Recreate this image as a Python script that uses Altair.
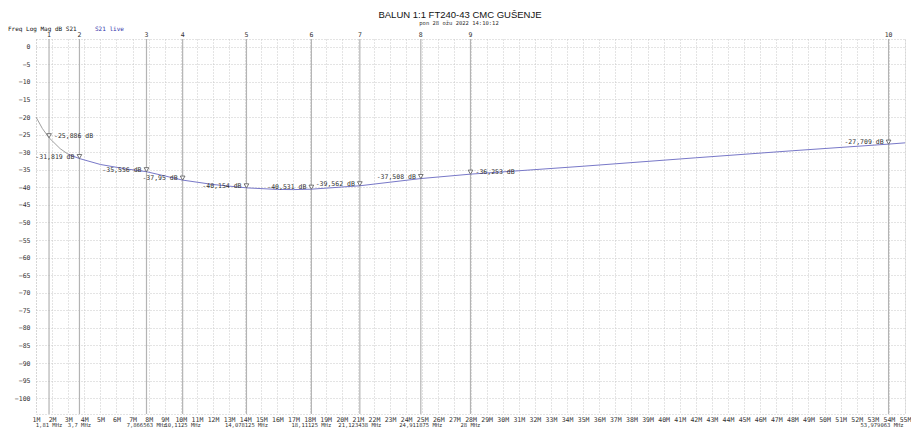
import altair as alt
import pandas as pd

# ---------------- data ----------------
TITLE = "BALUN 1:1 FT240-43 CMC GUŠENJE"
SUBTITLE = "pon 28 ožu 2022 14:10:12"
TRACE_NAME = "Freq Log Mag dB S21"
TRACE_LIVE = "S21 live"

# trace S21 (MHz, dB)
trace_freq = [1.0, 1.4, 1.81, 2.5, 3.0, 3.7, 5.0, 6.5, 7.866563, 10.1125, 12.0,
              14.078125, 16.0, 17.0, 18.11125, 21.123438, 24.911875, 28.0,
              35.0, 42.0, 48.0, 53.979063, 55.0]
trace_db = [-20.0, -23.3, -25.886, -29.0, -30.6, -31.819, -33.5, -34.7, -35.556,
            -37.95, -39.2, -40.154, -40.6, -40.65, -40.531, -39.562, -37.508,
            -36.253, -34.0, -31.6, -29.6, -27.709, -27.35]
GREY_UNTIL = 3.0  # start of trace drawn in grey

marker_num = [1, 2, 3, 4, 5, 6, 7, 8, 9, 10]
marker_freq = [1.81, 3.7, 7.866563, 10.1125, 14.078125, 18.11125, 21.123438,
               24.911875, 28.0, 53.979063]
marker_db = [-25.886, -31.819, -35.556, -37.95, -40.154, -40.531, -39.562,
             -37.508, -36.253, -27.709]
label_right = [1, 9]  # markers whose value label sits right of the marker

x_ticks = list(range(1, 56))
y_ticks = list(range(0, -101, -5))

# ---------------- tables ----------------
def fmt_num(v):
    s = ("%.6f" % v).rstrip("0").rstrip(".")
    return s.replace(".", ",")

trace = pd.DataFrame({"f": trace_freq, "db": trace_db})
markers = pd.DataFrame({
    "n": marker_num,
    "f": marker_freq,
    "db": marker_db,
    "lab": [fmt_num(v) + " dB" for v in marker_db],
    "flab": [fmt_num(f) + " MHz" for f in marker_freq],
    "right": [n in label_right for n in marker_num],
})

W, H = 869, 375
MONO = "DejaVu Sans Mono"
SANS = "Liberation Sans"

xs = alt.Scale(domain=[1, 55], nice=False, zero=False)
ys = alt.Scale(domain=[-104.5, 2.2], nice=False, zero=False)

X = alt.X("f:Q", scale=xs, title=None,
          axis=alt.Axis(values=x_ticks, labelExpr="datum.value + 'M'",
                        labelOverlap=False, labelPadding=2, labelFlush=False,
                        tickCount=55))
Y = alt.Y("db:Q", scale=ys, title=None,
          axis=alt.Axis(values=y_ticks, labelPadding=6, labelOverlap=False,
                        tickCount=21))

TRACE_COLOR = "#7878c8"
TXT = "#333333"

base_line = alt.Chart(trace).mark_line(color=TRACE_COLOR, strokeWidth=1).encode(
    x=X, y=Y).transform_filter(alt.datum.f >= GREY_UNTIL)
grey_line = alt.Chart(trace).mark_line(color="#a0a0a0", strokeWidth=1).encode(
    x=X, y=Y).transform_filter(alt.datum.f <= GREY_UNTIL)

mk = alt.Chart(markers)
rules = mk.mark_rule(color="#b4b4b4", strokeWidth=1.2).encode(
    x=X, y=alt.value(0), y2=alt.value(H))

tri = mk.mark_point(shape="triangle-down", filled=True, fill="white",
                    stroke="#555555", strokeWidth=0.8, size=22, yOffset=-2,
                    opacity=1).encode(x=X, y=Y)

lab_left = mk.transform_filter(alt.datum.right == False).mark_text(
    font=MONO, fontSize=6.5, color=TXT, align="right", baseline="middle",
    dx=-5, dy=-2).encode(x=X, y=Y, text="lab:N")
lab_right = mk.transform_filter(alt.datum.right == True).mark_text(
    font=MONO, fontSize=6.5, color=TXT, align="left", baseline="middle",
    dx=5, dy=-2).encode(x=X, y=Y, text="lab:N")

nums = mk.mark_text(font=MONO, fontSize=6.5, color=TXT, baseline="bottom",
                    align="center").encode(x=X, y=alt.value(-1), text="n:N")

flabs = mk.transform_filter(alt.datum.n < 10).mark_text(
    font=MONO, fontSize=5.5, color=TXT, baseline="top", align="center").encode(
    x=X, y=alt.value(H + 9), text="flab:N")
flab_last = mk.transform_filter(alt.datum.n == 10).mark_text(
    font=MONO, fontSize=5.5, color=TXT, baseline="top", align="right",
    dx=15).encode(x=X, y=alt.value(H + 9), text="flab:N")

hdr = pd.DataFrame({"title": [TITLE], "sub": [SUBTITLE],
                    "name": [TRACE_NAME], "live": [TRACE_LIVE]})
hc = alt.Chart(hdr)
t_title = hc.mark_text(font=SANS, fontSize=9.5, color="#111111", align="center",
                       baseline="top").encode(x=alt.value(424), y=alt.value(-29),
                                              text="title:N")
t_sub = hc.mark_text(font=MONO, fontSize=5.5, color=TXT, align="center",
                     baseline="top").encode(x=alt.value(423), y=alt.value(-18),
                                            text="sub:N")
t_name = hc.mark_text(font=MONO, fontSize=6, color="#111111", align="left",
                      baseline="middle").encode(
    x=alt.value(-28), y=alt.value(-10), text="name:N")
t_live = hc.mark_text(font=MONO, fontSize=6, color="#3333aa", align="left",
                      baseline="middle").encode(
    x=alt.value(59), y=alt.value(-10), text="live:N")

chart = alt.layer(
    rules, base_line, grey_line, tri, lab_left, lab_right, nums, flabs, flab_last,
    t_title, t_sub, t_name, t_live
).properties(
    width=W, height=H,
    autosize=alt.AutoSizeParams(type="none"),
    padding={"left": 28, "top": 31, "right": 6, "bottom": 14},
    background="white",
).configure_view(
    stroke="#c8c8c8", strokeDash=[1, 2]
).configure_axis(
    grid=True, gridColor="#c8c8c8", gridDash=[1, 2], gridWidth=1,
    domain=False, ticks=False,
    labelFont=MONO, labelFontSize=6.5, labelColor=TXT,
)

chart.save("out.html", embed_options={"renderer": "svg", "actions": False})
